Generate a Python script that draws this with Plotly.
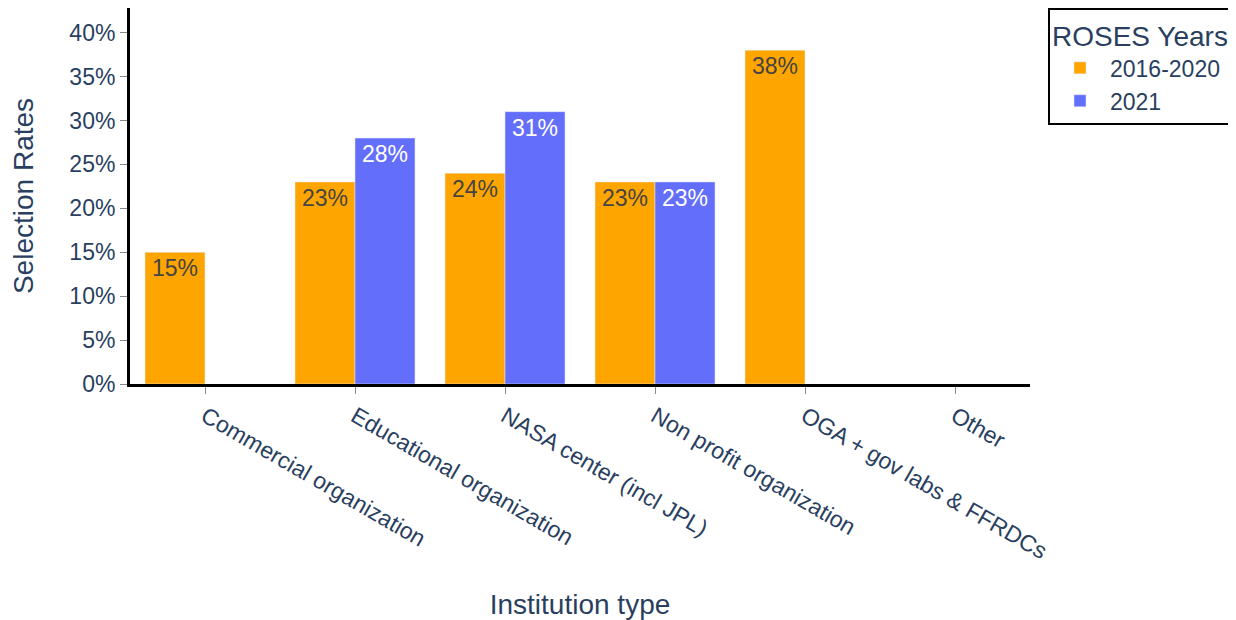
import plotly.graph_objects as go

categories = ["Commercial organization", "Educational organization", "NASA center (incl JPL)",
              "Non profit organization", "OGA + gov labs & FFRDCs", "Other"]
rates_2016_2020 = [0.15, 0.23, 0.24, 0.23, 0.38, None]
rates_2021 = [None, 0.28, 0.31, 0.23, None, None]

fig = go.Figure()
fig.add_trace(go.Bar(x=categories, y=rates_2016_2020, name="2016-2020",
                     marker=dict(color="#FFA500", line=dict(color="#E5ECF6", width=0.5)),
                     texttemplate="%{y:.0%}", textposition="auto",
                     textfont=dict(size=23)))
fig.add_trace(go.Bar(x=categories, y=rates_2021, name="2021",
                     marker=dict(color="#636EFA", line=dict(color="#E5ECF6", width=0.5)),
                     texttemplate="%{y:.0%}", textposition="auto",
                     textfont=dict(size=23)))

fig.update_layout(
    width=1236, height=620,
    template="plotly",
    paper_bgcolor="white", plot_bgcolor="white",
    barmode="group", bargap=0.2,
    margin=dict(l=122, r=214, t=0, b=244, autoexpand=False),
    font=dict(family="Arial, Liberation Sans, sans-serif", color="#2a3f5f", size=23),
    legend=dict(title=dict(text="ROSES Years", font=dict(size=28)),
                font=dict(size=23), bordercolor="black", borderwidth=2,
                itemwidth=50, tracegroupgap=12,
                x=1.02, xanchor="left", y=1.0, yanchor="top"),
    xaxis=dict(title=dict(text="Institution type", font=dict(size=28), standoff=32),
               tickangle=30, showgrid=False, showline=True, linecolor="black", linewidth=3,
               ticks="outside", tickcolor="#888", ticklen=7, tickfont=dict(size=23),
               automargin=False),
    yaxis=dict(title=dict(text="Selection Rates", font=dict(size=28), standoff=32),
               range=[0, 0.428], tickformat=".0%", dtick=0.05,
               showgrid=False, showline=True, linecolor="black", linewidth=3, zeroline=False,
               ticks="outside", tickcolor="#888", ticklen=7, tickfont=dict(size=23),
               automargin=False),
)

fig.write_html("out.html")
